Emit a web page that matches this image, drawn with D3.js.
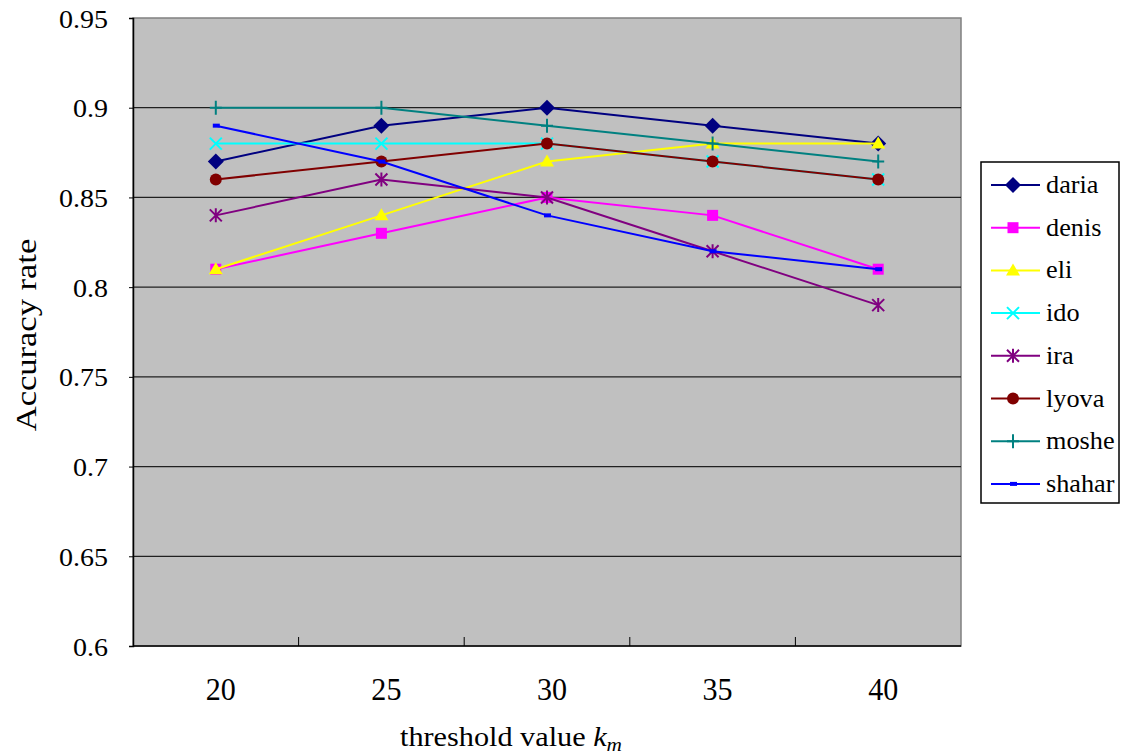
<!DOCTYPE html>
<html>
<head>
<meta charset="utf-8">
<script src="https://cdn.jsdelivr.net/npm/d3@7"></script>
</head>
<body style="margin:0;background:#fff">
<div id="chart"></div>
<script>
// chart values
var categories = [20, 25, 30, 35, 40];
var seriesNames = ['daria', 'denis', 'eli', 'ido', 'ira', 'lyova', 'moshe', 'shahar'];
var daria  = [0.87, 0.89, 0.90, 0.89, 0.88];
var denis  = [0.81, 0.83, 0.85, 0.84, 0.81];
var eli    = [0.81, 0.84, 0.87, 0.88, 0.88];
var ido    = [0.88, 0.88, 0.88, 0.87, 0.86];
var ira    = [0.84, 0.86, 0.85, 0.82, 0.79];
var lyova  = [0.86, 0.87, 0.88, 0.87, 0.86];
var moshe  = [0.90, 0.90, 0.89, 0.88, 0.87];
var shahar = [0.89, 0.87, 0.84, 0.82, 0.81];
var yTicks = [0.6, 0.65, 0.7, 0.75, 0.8, 0.85, 0.9, 0.95];

var seriesValues = [daria, denis, eli, ido, ira, lyova, moshe, shahar];
var colors = ['#000080', '#FF00FF', '#FFFF00', '#00FFFF', '#800080', '#800000', '#008080', '#0000FF'];
var shapes = ['diamond', 'square', 'triangle', 'x', 'star', 'circle', 'plus', 'dash'];

var FONT = 'Liberation Serif';

var W = 1127, H = 756;
var plot = {left: 133, right: 961, top: 18, bottom: 646};

var svg = d3.select('#chart').append('svg')
  .attr('width', W).attr('height', H);

// widen a text element horizontally, the reference glyphs are a bit wider than Times
function widen(sel, factor) {
  sel.each(function() {
    var len = this.getComputedTextLength();
    d3.select(this)
      .attr('textLength', len * factor)
      .attr('lengthAdjust', 'spacingAndGlyphs');
  });
}

var xScale = d3.scaleBand()
  .domain(categories)
  .range([plot.left, plot.right])
  .padding(0);

var yScale = d3.scaleLinear()
  .domain([0.6, 0.95])
  .range([plot.bottom, plot.top]);

function cx(c) { return xScale(c) + xScale.bandwidth() / 2; }

// plot background
svg.append('rect')
  .attr('x', plot.left).attr('y', plot.top)
  .attr('width', plot.right - plot.left).attr('height', plot.bottom - plot.top)
  .attr('fill', '#C0C0C0')
  .attr('stroke', '#808080')
  .attr('stroke-width', 1.5);

// gridlines
svg.append('g').selectAll('line')
  .data(yTicks.filter(function(d) { return d > 0.6 && d < 0.95; }))
  .enter().append('line')
  .attr('x1', plot.left).attr('x2', plot.right)
  .attr('y1', function(d) { return yScale(d); })
  .attr('y2', function(d) { return yScale(d); })
  .attr('stroke', '#202020')
  .attr('stroke-width', 1.2);

// y axis
var yAxis = d3.axisLeft(yScale)
  .tickValues(yTicks)
  .tickSize(4)
  .tickPadding(21)
  .tickFormat(function(d) { return String(+d.toFixed(2)); });

var gy = svg.append('g')
  .attr('transform', 'translate(' + plot.left + ',0)')
  .call(yAxis);
gy.select('.domain').attr('stroke', '#000').attr('stroke-width', 1.5);
gy.selectAll('.tick line').attr('stroke', '#000');
gy.selectAll('.tick text')
  .style('font-family', FONT)
  .style('font-size', '25px')
  .attr('fill', '#000')
  .attr('dy', 9)
  .call(widen, 1.12);

// x axis: ticks at category boundaries, pointing inward
var boundaries = categories.slice(1).map(function(c) { return xScale(c); });
var gx = svg.append('g');
gx.append('line')
  .attr('x1', plot.left).attr('x2', plot.right)
  .attr('y1', plot.bottom).attr('y2', plot.bottom)
  .attr('stroke', '#000').attr('stroke-width', 1.5);
gx.selectAll('line.tk')
  .data(boundaries)
  .enter().append('line')
  .attr('class', 'tk')
  .attr('x1', function(d) { return d; }).attr('x2', function(d) { return d; })
  .attr('y1', plot.bottom).attr('y2', plot.bottom - 9)
  .attr('stroke', '#000');
gx.selectAll('text')
  .data(categories)
  .enter().append('text')
  .attr('x', function(d) { return cx(d) + 5; })
  .attr('y', 700)
  .attr('text-anchor', 'middle')
  .style('font-family', FONT)
  .style('font-size', '31px')
  .text(function(d) { return d; })
  .call(widen, 0.97);

// axis titles
var xt = svg.append('text')
  .attr('x', 511).attr('y', 746)
  .attr('text-anchor', 'middle')
  .style('font-family', FONT)
  .style('font-size', '27px');
xt.append('tspan').text('threshold value ');
xt.append('tspan').style('font-style', 'italic').text('k');
xt.append('tspan').style('font-style', 'italic').style('font-size', '19px').attr('dy', 5).text('m');
xt.call(widen, 1.12);

svg.append('text')
  .attr('transform', 'translate(36,335) rotate(-90)')
  .attr('text-anchor', 'middle')
  .style('font-family', FONT)
  .style('font-size', '30px')
  .text('Accuracy rate')
  .call(widen, 1.15);

// marker drawing
function drawMarker(g, shape, color, x, y) {
  var m = g.append('g').attr('transform', 'translate(' + x + ',' + y + ')');
  if (shape === 'diamond') {
    m.append('path').attr('d', 'M0,-8L8,0L0,8L-8,0Z').attr('fill', color);
  } else if (shape === 'square') {
    m.append('rect').attr('x', -5.5).attr('y', -5.5).attr('width', 11).attr('height', 11).attr('fill', color);
  } else if (shape === 'triangle') {
    m.append('path').attr('d', 'M0,-7L7,5L-7,5Z').attr('fill', color);
  } else if (shape === 'x') {
    m.append('path').attr('d', 'M-6,-6L6,6M-6,6L6,-6').attr('stroke', color).attr('stroke-width', 2);
  } else if (shape === 'star') {
    m.append('path').attr('d', 'M-6,-6L6,6M-6,6L6,-6M0,-7L0,7').attr('stroke', color).attr('stroke-width', 2);
  } else if (shape === 'circle') {
    m.append('circle').attr('r', 6).attr('fill', color);
  } else if (shape === 'plus') {
    m.append('path').attr('d', 'M-6,0L6,0M0,-7L0,7').attr('stroke', color).attr('stroke-width', 2);
  } else if (shape === 'dash') {
    m.append('rect').attr('x', -3).attr('y', -2).attr('width', 7).attr('height', 4).attr('fill', color);
  }
}

var line = d3.line()
  .x(function(d, i) { return cx(categories[i]); })
  .y(function(d) { return yScale(d); });

seriesValues.forEach(function(vals, k) {
  var g = svg.append('g');
  g.append('path')
    .datum(vals)
    .attr('d', line)
    .attr('fill', 'none')
    .attr('stroke', colors[k])
    .attr('stroke-width', 2);
  vals.forEach(function(v, i) {
    drawMarker(g, shapes[k], colors[k], cx(categories[i]), yScale(v));
  });
});

// legend
var lg = svg.append('g');
lg.append('rect')
  .attr('x', 981).attr('y', 162).attr('width', 138).attr('height', 341)
  .attr('fill', '#fff').attr('stroke', '#000').attr('stroke-width', 1.5);
seriesNames.forEach(function(name, k) {
  var y = 185 + k * 42.7;
  lg.append('line')
    .attr('x1', 991).attr('x2', 1040).attr('y1', y).attr('y2', y)
    .attr('stroke', colors[k]).attr('stroke-width', 2);
  drawMarker(lg, shapes[k], colors[k], 1013, y);
  lg.append('text')
    .attr('x', 1046).attr('y', y + 8)
    .style('font-family', FONT)
    .style('font-size', '25px')
    .text(name)
    .call(widen, 1.05);
});
</script>
</body>
</html>
